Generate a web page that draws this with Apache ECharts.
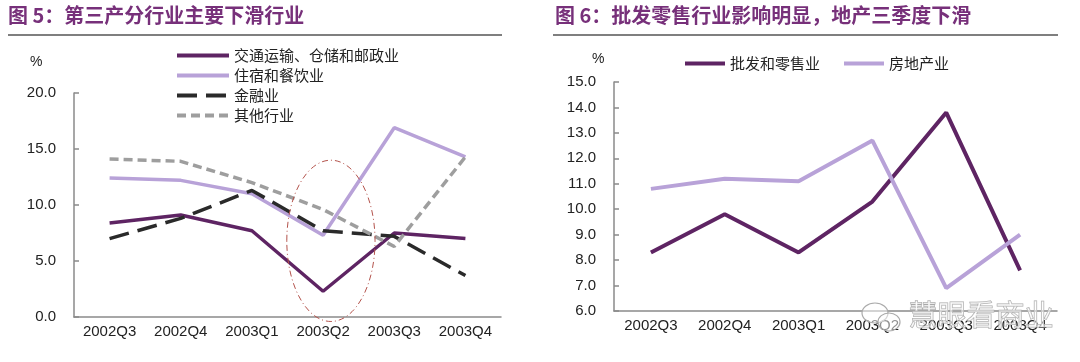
<!DOCTYPE html>
<html><head><meta charset="utf-8">
<script src="https://cdn.jsdelivr.net/npm/echarts@6/dist/echarts.min.js"></script>
<style>html,body{margin:0;padding:0;background:#fff}#c{width:1080px;height:362px}</style>
</head><body><div id="c"></div>
<script>
const categories = ['2002Q3','2002Q4','2003Q1','2003Q2','2003Q3','2003Q4'];
// Figure 5
const transport = [8.4, 9.1, 7.7, 2.3, 7.5, 7.0];
const accommodation = [12.4, 12.2, 11.0, 7.3, 16.9, 14.3];
const finance = [7.0, 8.8, 11.3, 7.7, 7.2, 3.7];
const others = [14.1, 13.9, 12.0, 9.6, 6.3, 14.3];
const leftNames = ['交通运输、仓储和邮政业','住宿和餐饮业','金融业','其他行业'];
const leftTicks = {min:0, max:20, interval:5};
// Figure 6
const wholesale = [8.3, 9.8, 8.3, 10.3, 13.8, 7.6];
const realEstate = [10.8, 11.2, 11.1, 12.7, 6.9, 9.0];
const rightNames = ['批发和零售业','房地产业'];
const rightTicks = {min:6, max:15, interval:1};
const titles = ['图 5：第三产分行业主要下滑行业','图 6：批发零售行业影响明显，地产三季度下滑'];

const FONT = 'Liberation Sans, Arial, Noto Sans CJK SC, sans-serif';
const CJK = 'Noto Sans CJK SC, sans-serif';
const DARK = '#5e2463', LIGHT = '#b8a2d8', BLACK = '#2a2a2a', GRAY = '#9e9e9e';
const axisCol = '#8a8a8a';

const chart = echarts.init(document.getElementById('c'));
function xAxis(gi){
  return {type:'category', gridIndex:gi, data:categories, boundaryGap:true,
    axisLine:{lineStyle:{color:axisCol,width:1.5}},
    axisTick:{inside:true,length:5,lineStyle:{color:axisCol,width:1.5}},
    axisLabel:{color:'#222',fontSize:15,fontFamily:FONT,margin:7}};
}
function yAxis(gi,t){
  return {type:'value', gridIndex:gi, min:t.min, max:t.max, interval:t.interval,
    axisLine:{show:true,lineStyle:{color:axisCol,width:1.5}},
    axisTick:{show:true,inside:true,length:5,lineStyle:{color:axisCol,width:1.5}},
    splitLine:{show:false},
    axisLabel:{color:'#222',fontSize:15,fontFamily:FONT,margin:18,formatter:v=>v.toFixed(1)}};
}
function line(name,data,gi,color,width,dash){
  return {type:'line', name, data, xAxisIndex:gi, yAxisIndex:gi, symbol:'none',
    lineStyle:{color,width,type:dash||'solid'}, itemStyle:{color}, z: 3};
}
const hiddenSym = {color:'rgba(0,0,0,0)', borderColor:'rgba(0,0,0,0)', borderWidth:0, opacity:0};
chart.setOption({
  animation:false,
  title:[
    {text:titles[0], left:8, top:5, padding:0, textStyle:{color:'#77307a',fontSize:20,fontWeight:'bold',fontFamily:CJK}},
    {text:titles[1], left:555, top:5, padding:0, textStyle:{color:'#77307a',fontSize:20,fontWeight:'bold',fontFamily:CJK}}
  ],
  grid:[
    {left:74, right:579, top:93, bottom:45},
    {left:614, right:23, top:82, bottom:51}
  ],
  xAxis:[xAxis(0), xAxis(1)],
  yAxis:[yAxis(0,leftTicks), yAxis(1,rightTicks)],
  legend:[
    {data:leftNames, orient:'vertical', left:175, top:48, padding:0, itemWidth:52, itemHeight:15, itemGap:5,
     itemStyle:hiddenSym, lineStyle:{width:4}, textStyle:{fontSize:15,color:'#222',fontFamily:CJK}},
    {data:rightNames, orient:'horizontal', left:683, top:56, padding:0, itemWidth:40, itemHeight:15, itemGap:22,
     itemStyle:hiddenSym, lineStyle:{width:4}, textStyle:{fontSize:15,color:'#222',fontFamily:CJK}}
  ],
  series:[
    line(leftNames[0], transport, 0, DARK, 3.5),
    line(leftNames[1], accommodation, 0, LIGHT, 3.5),
    line(leftNames[2], finance, 0, BLACK, 3.5, [20,9]),
    line(leftNames[3], others, 0, GRAY, 3.5, [9,5]),
    line(rightNames[0], wholesale, 1, DARK, 4),
    line(rightNames[1], realEstate, 1, LIGHT, 4)
  ]
});

// annotation ellipse around 2003Q2 and decorative elements
const pc = chart.convertToPixel({gridIndex:0}, ['2003Q2', 6.8]);
const pc2 = chart.convertToPixel({gridIndex:0}, ['2003Q3', 6.8]);
const ptop = chart.convertToPixel({gridIndex:0}, ['2003Q2', 14.0]);
const catW = pc2[0]-pc[0];
chart.setOption({
  graphic:[
    {type:'line', shape:{x1:8,y1:35,x2:502,y2:35}, style:{stroke:'#555',lineWidth:1.5}},
    {type:'line', shape:{x1:553,y1:35,x2:1058,y2:35}, style:{stroke:'#555',lineWidth:1.5}},
    {type:'text', left:30, top:55, style:{text:'%', fontSize:14, fill:'#222', fontFamily:FONT}},
    {type:'text', left:592, top:52, style:{text:'%', fontSize:14, fill:'#222', fontFamily:FONT}},
    {type:'ellipse', shape:{cx:pc[0]+catW*0.11, cy:pc[1], rx:catW*0.62, ry:pc[1]-ptop[1]},
     style:{fill:'none', stroke:'#b3524b', lineWidth:1, lineDash:[6,3,1,3]}, z:10},
    {type:'ellipse', shape:{cx:875, cy:313, rx:13, ry:10}, style:{fill:'rgba(255,255,255,0.5)', stroke:'#aaa', lineWidth:1.2}, z:20},
    {type:'ellipse', shape:{cx:889, cy:322, rx:11, ry:9}, style:{fill:'rgba(255,255,255,0.5)', stroke:'#aaa', lineWidth:1.2}, z:20},
    {type:'text', left:908, top:300, z:20, style:{text:'慧眼看商业', fontSize:29, fill:'rgba(255,255,255,0.55)', stroke:'#a8a8a8', lineWidth:1, fontFamily:CJK}}
  ]
});
</script></body></html>
